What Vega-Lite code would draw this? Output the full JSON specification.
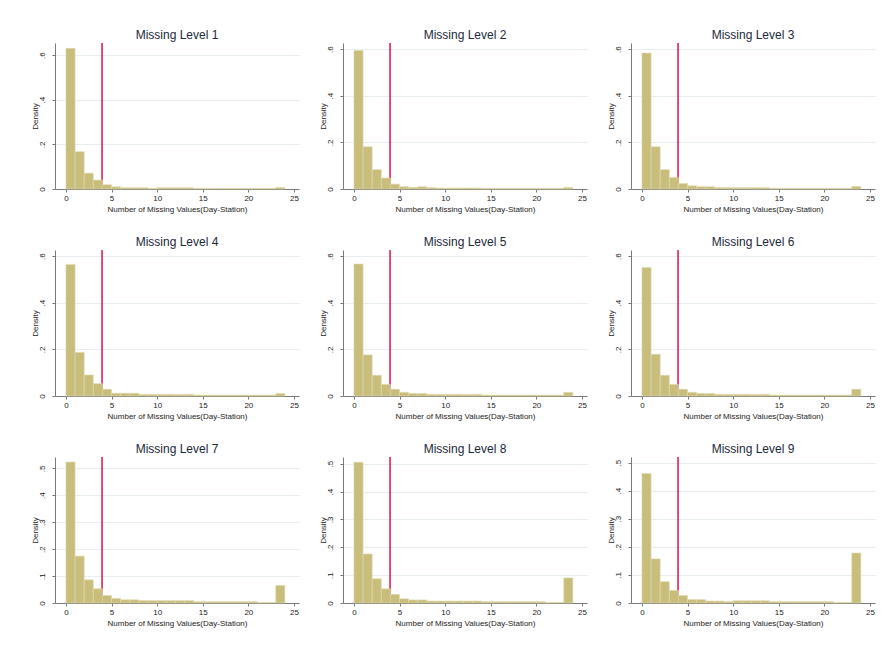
{
  "$schema": "https://vega.github.io/schema/vega-lite/v6.json",
  "background": "white",
  "padding": {"left": 30, "top": 28, "right": 5, "bottom": 5},
  "datasets": {
    "hist": [
      {"level":1,"lo":0,"hi":1,"density":0.630},{"level":1,"lo":1,"hi":2,"density":0.167},{"level":1,"lo":2,"hi":3,"density":0.071},{"level":1,"lo":3,"hi":4,"density":0.040},{"level":1,"lo":4,"hi":5,"density":0.019},{"level":1,"lo":5,"hi":6,"density":0.010},{"level":1,"lo":6,"hi":7,"density":0.006},{"level":1,"lo":7,"hi":8,"density":0.006},{"level":1,"lo":8,"hi":9,"density":0.006},{"level":1,"lo":9,"hi":10,"density":0.003},{"level":1,"lo":10,"hi":11,"density":0.006},{"level":1,"lo":11,"hi":12,"density":0.006},{"level":1,"lo":12,"hi":13,"density":0.006},{"level":1,"lo":13,"hi":14,"density":0.006},{"level":1,"lo":14,"hi":15,"density":0.003},{"level":1,"lo":15,"hi":16,"density":0.003},{"level":1,"lo":16,"hi":17,"density":0.003},{"level":1,"lo":17,"hi":18,"density":0.003},{"level":1,"lo":18,"hi":19,"density":0.003},{"level":1,"lo":19,"hi":20,"density":0.003},{"level":1,"lo":20,"hi":21,"density":0.003},{"level":1,"lo":21,"hi":22,"density":0.003},{"level":1,"lo":22,"hi":23,"density":0.003},{"level":1,"lo":23,"hi":24,"density":0.007},
      {"level":2,"lo":0,"hi":1,"density":0.594},{"level":2,"lo":1,"hi":2,"density":0.181},{"level":2,"lo":2,"hi":3,"density":0.083},{"level":2,"lo":3,"hi":4,"density":0.047},{"level":2,"lo":4,"hi":5,"density":0.021},{"level":2,"lo":5,"hi":6,"density":0.010},{"level":2,"lo":6,"hi":7,"density":0.007},{"level":2,"lo":7,"hi":8,"density":0.010},{"level":2,"lo":8,"hi":9,"density":0.006},{"level":2,"lo":9,"hi":10,"density":0.004},{"level":2,"lo":10,"hi":11,"density":0.004},{"level":2,"lo":11,"hi":12,"density":0.004},{"level":2,"lo":12,"hi":13,"density":0.004},{"level":2,"lo":13,"hi":14,"density":0.004},{"level":2,"lo":14,"hi":15,"density":0.003},{"level":2,"lo":15,"hi":16,"density":0.003},{"level":2,"lo":16,"hi":17,"density":0.003},{"level":2,"lo":17,"hi":18,"density":0.003},{"level":2,"lo":18,"hi":19,"density":0.003},{"level":2,"lo":19,"hi":20,"density":0.003},{"level":2,"lo":20,"hi":21,"density":0.003},{"level":2,"lo":21,"hi":22,"density":0.003},{"level":2,"lo":22,"hi":23,"density":0.003},{"level":2,"lo":23,"hi":24,"density":0.007},
      {"level":3,"lo":0,"hi":1,"density":0.583},{"level":3,"lo":1,"hi":2,"density":0.181},{"level":3,"lo":2,"hi":3,"density":0.083},{"level":3,"lo":3,"hi":4,"density":0.049},{"level":3,"lo":4,"hi":5,"density":0.024},{"level":3,"lo":5,"hi":6,"density":0.014},{"level":3,"lo":6,"hi":7,"density":0.010},{"level":3,"lo":7,"hi":8,"density":0.010},{"level":3,"lo":8,"hi":9,"density":0.006},{"level":3,"lo":9,"hi":10,"density":0.006},{"level":3,"lo":10,"hi":11,"density":0.006},{"level":3,"lo":11,"hi":12,"density":0.006},{"level":3,"lo":12,"hi":13,"density":0.006},{"level":3,"lo":13,"hi":14,"density":0.006},{"level":3,"lo":14,"hi":15,"density":0.003},{"level":3,"lo":15,"hi":16,"density":0.003},{"level":3,"lo":16,"hi":17,"density":0.003},{"level":3,"lo":17,"hi":18,"density":0.003},{"level":3,"lo":18,"hi":19,"density":0.003},{"level":3,"lo":19,"hi":20,"density":0.003},{"level":3,"lo":20,"hi":21,"density":0.003},{"level":3,"lo":21,"hi":22,"density":0.003},{"level":3,"lo":22,"hi":23,"density":0.003},{"level":3,"lo":23,"hi":24,"density":0.011},
      {"level":4,"lo":0,"hi":1,"density":0.564},{"level":4,"lo":1,"hi":2,"density":0.187},{"level":4,"lo":2,"hi":3,"density":0.090},{"level":4,"lo":3,"hi":4,"density":0.053},{"level":4,"lo":4,"hi":5,"density":0.029},{"level":4,"lo":5,"hi":6,"density":0.012},{"level":4,"lo":6,"hi":7,"density":0.012},{"level":4,"lo":7,"hi":8,"density":0.012},{"level":4,"lo":8,"hi":9,"density":0.007},{"level":4,"lo":9,"hi":10,"density":0.007},{"level":4,"lo":10,"hi":11,"density":0.007},{"level":4,"lo":11,"hi":12,"density":0.007},{"level":4,"lo":12,"hi":13,"density":0.007},{"level":4,"lo":13,"hi":14,"density":0.007},{"level":4,"lo":14,"hi":15,"density":0.004},{"level":4,"lo":15,"hi":16,"density":0.004},{"level":4,"lo":16,"hi":17,"density":0.004},{"level":4,"lo":17,"hi":18,"density":0.004},{"level":4,"lo":18,"hi":19,"density":0.004},{"level":4,"lo":19,"hi":20,"density":0.004},{"level":4,"lo":20,"hi":21,"density":0.004},{"level":4,"lo":21,"hi":22,"density":0.004},{"level":4,"lo":22,"hi":23,"density":0.004},{"level":4,"lo":23,"hi":24,"density":0.011},
      {"level":5,"lo":0,"hi":1,"density":0.566},{"level":5,"lo":1,"hi":2,"density":0.176},{"level":5,"lo":2,"hi":3,"density":0.089},{"level":5,"lo":3,"hi":4,"density":0.050},{"level":5,"lo":4,"hi":5,"density":0.029},{"level":5,"lo":5,"hi":6,"density":0.016},{"level":5,"lo":6,"hi":7,"density":0.011},{"level":5,"lo":7,"hi":8,"density":0.011},{"level":5,"lo":8,"hi":9,"density":0.007},{"level":5,"lo":9,"hi":10,"density":0.007},{"level":5,"lo":10,"hi":11,"density":0.007},{"level":5,"lo":11,"hi":12,"density":0.007},{"level":5,"lo":12,"hi":13,"density":0.007},{"level":5,"lo":13,"hi":14,"density":0.007},{"level":5,"lo":14,"hi":15,"density":0.004},{"level":5,"lo":15,"hi":16,"density":0.004},{"level":5,"lo":16,"hi":17,"density":0.004},{"level":5,"lo":17,"hi":18,"density":0.004},{"level":5,"lo":18,"hi":19,"density":0.004},{"level":5,"lo":19,"hi":20,"density":0.004},{"level":5,"lo":20,"hi":21,"density":0.004},{"level":5,"lo":21,"hi":22,"density":0.004},{"level":5,"lo":22,"hi":23,"density":0.004},{"level":5,"lo":23,"hi":24,"density":0.016},
      {"level":6,"lo":0,"hi":1,"density":0.551},{"level":6,"lo":1,"hi":2,"density":0.179},{"level":6,"lo":2,"hi":3,"density":0.089},{"level":6,"lo":3,"hi":4,"density":0.050},{"level":6,"lo":4,"hi":5,"density":0.029},{"level":6,"lo":5,"hi":6,"density":0.016},{"level":6,"lo":6,"hi":7,"density":0.011},{"level":6,"lo":7,"hi":8,"density":0.011},{"level":6,"lo":8,"hi":9,"density":0.007},{"level":6,"lo":9,"hi":10,"density":0.007},{"level":6,"lo":10,"hi":11,"density":0.007},{"level":6,"lo":11,"hi":12,"density":0.007},{"level":6,"lo":12,"hi":13,"density":0.007},{"level":6,"lo":13,"hi":14,"density":0.007},{"level":6,"lo":14,"hi":15,"density":0.004},{"level":6,"lo":15,"hi":16,"density":0.004},{"level":6,"lo":16,"hi":17,"density":0.004},{"level":6,"lo":17,"hi":18,"density":0.004},{"level":6,"lo":18,"hi":19,"density":0.004},{"level":6,"lo":19,"hi":20,"density":0.004},{"level":6,"lo":20,"hi":21,"density":0.004},{"level":6,"lo":21,"hi":22,"density":0.004},{"level":6,"lo":22,"hi":23,"density":0.004},{"level":6,"lo":23,"hi":24,"density":0.029},
      {"level":7,"lo":0,"hi":1,"density":0.523},{"level":7,"lo":1,"hi":2,"density":0.174},{"level":7,"lo":2,"hi":3,"density":0.086},{"level":7,"lo":3,"hi":4,"density":0.053},{"level":7,"lo":4,"hi":5,"density":0.028},{"level":7,"lo":5,"hi":6,"density":0.017},{"level":7,"lo":6,"hi":7,"density":0.012},{"level":7,"lo":7,"hi":8,"density":0.012},{"level":7,"lo":8,"hi":9,"density":0.009},{"level":7,"lo":9,"hi":10,"density":0.009},{"level":7,"lo":10,"hi":11,"density":0.009},{"level":7,"lo":11,"hi":12,"density":0.009},{"level":7,"lo":12,"hi":13,"density":0.009},{"level":7,"lo":13,"hi":14,"density":0.009},{"level":7,"lo":14,"hi":15,"density":0.005},{"level":7,"lo":15,"hi":16,"density":0.005},{"level":7,"lo":16,"hi":17,"density":0.005},{"level":7,"lo":17,"hi":18,"density":0.005},{"level":7,"lo":18,"hi":19,"density":0.005},{"level":7,"lo":19,"hi":20,"density":0.005},{"level":7,"lo":20,"hi":21,"density":0.005},{"level":7,"lo":21,"hi":22,"density":0.002},{"level":7,"lo":22,"hi":23,"density":0.002},{"level":7,"lo":23,"hi":24,"density":0.065},
      {"level":8,"lo":0,"hi":1,"density":0.505},{"level":8,"lo":1,"hi":2,"density":0.176},{"level":8,"lo":2,"hi":3,"density":0.087},{"level":8,"lo":3,"hi":4,"density":0.051},{"level":8,"lo":4,"hi":5,"density":0.031},{"level":8,"lo":5,"hi":6,"density":0.015},{"level":8,"lo":6,"hi":7,"density":0.011},{"level":8,"lo":7,"hi":8,"density":0.011},{"level":8,"lo":8,"hi":9,"density":0.007},{"level":8,"lo":9,"hi":10,"density":0.007},{"level":8,"lo":10,"hi":11,"density":0.007},{"level":8,"lo":11,"hi":12,"density":0.007},{"level":8,"lo":12,"hi":13,"density":0.007},{"level":8,"lo":13,"hi":14,"density":0.007},{"level":8,"lo":14,"hi":15,"density":0.005},{"level":8,"lo":15,"hi":16,"density":0.005},{"level":8,"lo":16,"hi":17,"density":0.005},{"level":8,"lo":17,"hi":18,"density":0.005},{"level":8,"lo":18,"hi":19,"density":0.005},{"level":8,"lo":19,"hi":20,"density":0.005},{"level":8,"lo":20,"hi":21,"density":0.005},{"level":8,"lo":21,"hi":22,"density":0.002},{"level":8,"lo":22,"hi":23,"density":0.002},{"level":8,"lo":23,"hi":24,"density":0.090},
      {"level":9,"lo":0,"hi":1,"density":0.461},{"level":9,"lo":1,"hi":2,"density":0.157},{"level":9,"lo":2,"hi":3,"density":0.076},{"level":9,"lo":3,"hi":4,"density":0.045},{"level":9,"lo":4,"hi":5,"density":0.027},{"level":9,"lo":5,"hi":6,"density":0.012},{"level":9,"lo":6,"hi":7,"density":0.012},{"level":9,"lo":7,"hi":8,"density":0.007},{"level":9,"lo":8,"hi":9,"density":0.007},{"level":9,"lo":9,"hi":10,"density":0.005},{"level":9,"lo":10,"hi":11,"density":0.008},{"level":9,"lo":11,"hi":12,"density":0.008},{"level":9,"lo":12,"hi":13,"density":0.008},{"level":9,"lo":13,"hi":14,"density":0.008},{"level":9,"lo":14,"hi":15,"density":0.005},{"level":9,"lo":15,"hi":16,"density":0.005},{"level":9,"lo":16,"hi":17,"density":0.005},{"level":9,"lo":17,"hi":18,"density":0.005},{"level":9,"lo":18,"hi":19,"density":0.005},{"level":9,"lo":19,"hi":20,"density":0.005},{"level":9,"lo":20,"hi":21,"density":0.005},{"level":9,"lo":21,"hi":22,"density":0.002},{"level":9,"lo":22,"hi":23,"density":0.002},{"level":9,"lo":23,"hi":24,"density":0.178}
    ]
  },
  "data": {"name": "hist"},
  "columns": 3,
  "bounds": "flush",
  "spacing": {"row": 61, "column": 44},
  "concat": [
    {"title": "Missing Level 1", "width": 244, "height": 146,
     "transform": [{"filter": "datum.level == 1"}],
     "layer": [
       {"mark": {"type": "rule", "color": "#e4416b", "strokeWidth": 1}, "encoding": {"x": {"datum": 4, "type": "quantitative"}}},
       {"mark": {"type": "rect", "fill": "#c8bd7b", "stroke": "#e2dcb2", "strokeWidth": 0.6},
        "encoding": {
          "x": {"field": "lo", "type": "quantitative", "scale": {"domain": [-1.2, 25.55], "nice": false, "zero": false}, "axis": {"values": [0, 5, 10, 15, 20, 25], "title": "Number of Missing Values(Day-Station)"}},
          "x2": {"field": "hi"},
          "y": {"field": "density", "type": "quantitative", "scale": {"domain": [0, 0.654], "nice": false}, "axis": {"values": [0, 0.2, 0.4, 0.6], "title": "Density", "labelExpr": "datum.value == 0 ? '0' : replace(format(datum.value, '.1f'), '0.', '.')"}}
        }}
     ]},
    {"title": "Missing Level 2", "width": 244, "height": 146,
     "transform": [{"filter": "datum.level == 2"}],
     "layer": [
       {"mark": {"type": "rule", "color": "#e4416b", "strokeWidth": 1}, "encoding": {"x": {"datum": 4, "type": "quantitative"}}},
       {"mark": {"type": "rect", "fill": "#c8bd7b", "stroke": "#e2dcb2", "strokeWidth": 0.6},
        "encoding": {
          "x": {"field": "lo", "type": "quantitative", "scale": {"domain": [-1.2, 25.55], "nice": false, "zero": false}, "axis": {"values": [0, 5, 10, 15, 20, 25], "title": "Number of Missing Values(Day-Station)"}},
          "x2": {"field": "hi"},
          "y": {"field": "density", "type": "quantitative", "scale": {"domain": [0, 0.626], "nice": false}, "axis": {"values": [0, 0.2, 0.4, 0.6], "title": "Density", "labelExpr": "datum.value == 0 ? '0' : replace(format(datum.value, '.1f'), '0.', '.')"}}
        }}
     ]},
    {"title": "Missing Level 3", "width": 244, "height": 146,
     "transform": [{"filter": "datum.level == 3"}],
     "layer": [
       {"mark": {"type": "rule", "color": "#e4416b", "strokeWidth": 1}, "encoding": {"x": {"datum": 4, "type": "quantitative"}}},
       {"mark": {"type": "rect", "fill": "#c8bd7b", "stroke": "#e2dcb2", "strokeWidth": 0.6},
        "encoding": {
          "x": {"field": "lo", "type": "quantitative", "scale": {"domain": [-1.2, 25.55], "nice": false, "zero": false}, "axis": {"values": [0, 5, 10, 15, 20, 25], "title": "Number of Missing Values(Day-Station)"}},
          "x2": {"field": "hi"},
          "y": {"field": "density", "type": "quantitative", "scale": {"domain": [0, 0.626], "nice": false}, "axis": {"values": [0, 0.2, 0.4, 0.6], "title": "Density", "labelExpr": "datum.value == 0 ? '0' : replace(format(datum.value, '.1f'), '0.', '.')"}}
        }}
     ]},
    {"title": "Missing Level 4", "width": 244, "height": 146,
     "transform": [{"filter": "datum.level == 4"}],
     "layer": [
       {"mark": {"type": "rule", "color": "#e4416b", "strokeWidth": 1}, "encoding": {"x": {"datum": 4, "type": "quantitative"}}},
       {"mark": {"type": "rect", "fill": "#c8bd7b", "stroke": "#e2dcb2", "strokeWidth": 0.6},
        "encoding": {
          "x": {"field": "lo", "type": "quantitative", "scale": {"domain": [-1.2, 25.55], "nice": false, "zero": false}, "axis": {"values": [0, 5, 10, 15, 20, 25], "title": "Number of Missing Values(Day-Station)"}},
          "x2": {"field": "hi"},
          "y": {"field": "density", "type": "quantitative", "scale": {"domain": [0, 0.626], "nice": false}, "axis": {"values": [0, 0.2, 0.4, 0.6], "title": "Density", "labelExpr": "datum.value == 0 ? '0' : replace(format(datum.value, '.1f'), '0.', '.')"}}
        }}
     ]},
    {"title": "Missing Level 5", "width": 244, "height": 146,
     "transform": [{"filter": "datum.level == 5"}],
     "layer": [
       {"mark": {"type": "rule", "color": "#e4416b", "strokeWidth": 1}, "encoding": {"x": {"datum": 4, "type": "quantitative"}}},
       {"mark": {"type": "rect", "fill": "#c8bd7b", "stroke": "#e2dcb2", "strokeWidth": 0.6},
        "encoding": {
          "x": {"field": "lo", "type": "quantitative", "scale": {"domain": [-1.2, 25.55], "nice": false, "zero": false}, "axis": {"values": [0, 5, 10, 15, 20, 25], "title": "Number of Missing Values(Day-Station)"}},
          "x2": {"field": "hi"},
          "y": {"field": "density", "type": "quantitative", "scale": {"domain": [0, 0.626], "nice": false}, "axis": {"values": [0, 0.2, 0.4, 0.6], "title": "Density", "labelExpr": "datum.value == 0 ? '0' : replace(format(datum.value, '.1f'), '0.', '.')"}}
        }}
     ]},
    {"title": "Missing Level 6", "width": 244, "height": 146,
     "transform": [{"filter": "datum.level == 6"}],
     "layer": [
       {"mark": {"type": "rule", "color": "#e4416b", "strokeWidth": 1}, "encoding": {"x": {"datum": 4, "type": "quantitative"}}},
       {"mark": {"type": "rect", "fill": "#c8bd7b", "stroke": "#e2dcb2", "strokeWidth": 0.6},
        "encoding": {
          "x": {"field": "lo", "type": "quantitative", "scale": {"domain": [-1.2, 25.55], "nice": false, "zero": false}, "axis": {"values": [0, 5, 10, 15, 20, 25], "title": "Number of Missing Values(Day-Station)"}},
          "x2": {"field": "hi"},
          "y": {"field": "density", "type": "quantitative", "scale": {"domain": [0, 0.626], "nice": false}, "axis": {"values": [0, 0.2, 0.4, 0.6], "title": "Density", "labelExpr": "datum.value == 0 ? '0' : replace(format(datum.value, '.1f'), '0.', '.')"}}
        }}
     ]},
    {"title": "Missing Level 7", "width": 244, "height": 146,
     "transform": [{"filter": "datum.level == 7"}],
     "layer": [
       {"mark": {"type": "rule", "color": "#e4416b", "strokeWidth": 1}, "encoding": {"x": {"datum": 4, "type": "quantitative"}}},
       {"mark": {"type": "rect", "fill": "#c8bd7b", "stroke": "#e2dcb2", "strokeWidth": 0.6},
        "encoding": {
          "x": {"field": "lo", "type": "quantitative", "scale": {"domain": [-1.2, 25.55], "nice": false, "zero": false}, "axis": {"values": [0, 5, 10, 15, 20, 25], "title": "Number of Missing Values(Day-Station)"}},
          "x2": {"field": "hi"},
          "y": {"field": "density", "type": "quantitative", "scale": {"domain": [0, 0.542], "nice": false}, "axis": {"values": [0, 0.1, 0.2, 0.3, 0.4, 0.5], "title": "Density", "labelExpr": "datum.value == 0 ? '0' : replace(format(datum.value, '.1f'), '0.', '.')"}}
        }}
     ]},
    {"title": "Missing Level 8", "width": 244, "height": 146,
     "transform": [{"filter": "datum.level == 8"}],
     "layer": [
       {"mark": {"type": "rule", "color": "#e4416b", "strokeWidth": 1}, "encoding": {"x": {"datum": 4, "type": "quantitative"}}},
       {"mark": {"type": "rect", "fill": "#c8bd7b", "stroke": "#e2dcb2", "strokeWidth": 0.6},
        "encoding": {
          "x": {"field": "lo", "type": "quantitative", "scale": {"domain": [-1.2, 25.55], "nice": false, "zero": false}, "axis": {"values": [0, 5, 10, 15, 20, 25], "title": "Number of Missing Values(Day-Station)"}},
          "x2": {"field": "hi"},
          "y": {"field": "density", "type": "quantitative", "scale": {"domain": [0, 0.524], "nice": false}, "axis": {"values": [0, 0.1, 0.2, 0.3, 0.4, 0.5], "title": "Density", "labelExpr": "datum.value == 0 ? '0' : replace(format(datum.value, '.1f'), '0.', '.')"}}
        }}
     ]},
    {"title": "Missing Level 9", "width": 244, "height": 146,
     "transform": [{"filter": "datum.level == 9"}],
     "layer": [
       {"mark": {"type": "rule", "color": "#e4416b", "strokeWidth": 1}, "encoding": {"x": {"datum": 4, "type": "quantitative"}}},
       {"mark": {"type": "rect", "fill": "#c8bd7b", "stroke": "#e2dcb2", "strokeWidth": 0.6},
        "encoding": {
          "x": {"field": "lo", "type": "quantitative", "scale": {"domain": [-1.2, 25.55], "nice": false, "zero": false}, "axis": {"values": [0, 5, 10, 15, 20, 25], "title": "Number of Missing Values(Day-Station)"}},
          "x2": {"field": "hi"},
          "y": {"field": "density", "type": "quantitative", "scale": {"domain": [0, 0.52], "nice": false}, "axis": {"values": [0, 0.1, 0.2, 0.3, 0.4, 0.5], "title": "Density", "labelExpr": "datum.value == 0 ? '0' : replace(format(datum.value, '.1f'), '0.', '.')"}}
        }}
     ]}
  ],
  "config": {
    "font": "Liberation Sans",
    "view": {"stroke": null},
    "title": {"fontSize": 12, "fontWeight": "normal", "color": "#1c2838", "anchor": "middle", "frame": "group", "offset": 1},
    "axis": {
      "labelFontSize": 8, "titleFontSize": 8, "titleFontWeight": "normal",
      "labelColor": "#222222", "titleColor": "#222222",
      "domainColor": "#7a7a7a", "tickColor": "#7a7a7a", "tickSize": 3,
      "gridColor": "#e6eef1", "labelFlush": false, "labelOverlap": false
    },
    "axisX": {"grid": false, "labelPadding": 2, "titlePadding": 3},
    "axisY": {"grid": true, "labelAngle": 270, "labelAlign": "center", "labelBaseline": "bottom", "labelPadding": 6, "titlePadding": -1}
  }
}
